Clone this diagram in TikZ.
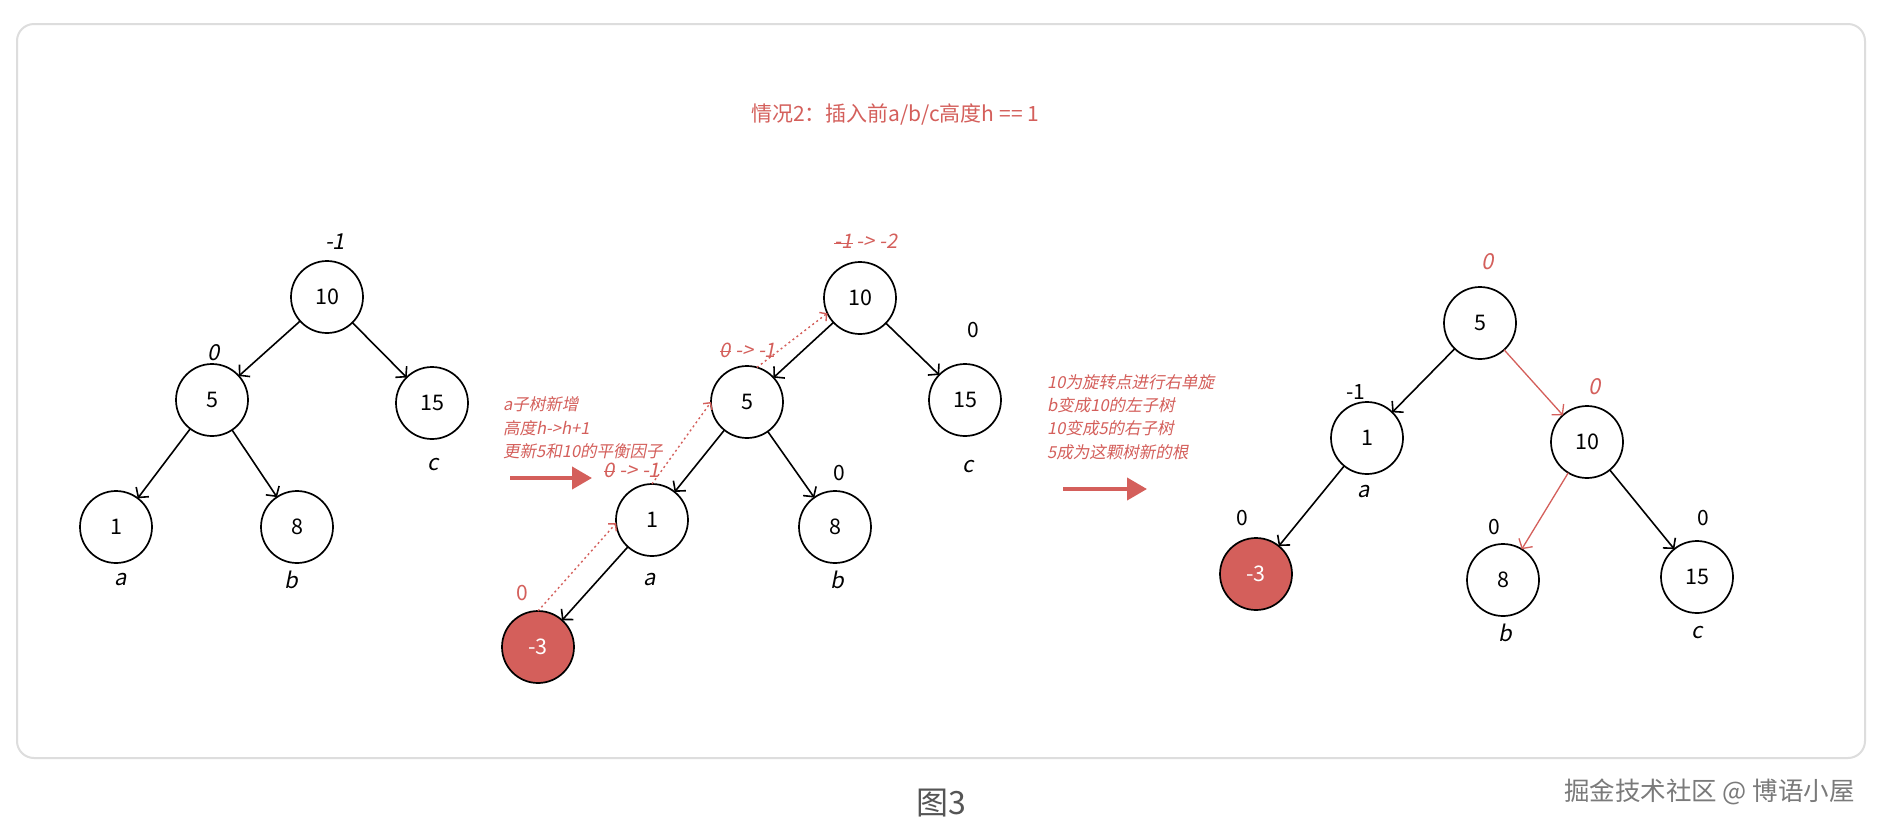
\documentclass[tikz,border=0pt]{standalone}
\usepackage{fontspec}
\setmainfont{Noto Sans CJK SC}
\newfontfamily\itf[FakeSlant=0.2]{Noto Sans CJK SC}
\usetikzlibrary{arrows.meta}
\definecolor{redc}{HTML}{D45F5B}
\definecolor{framec}{HTML}{DDDDDD}
\definecolor{capc}{HTML}{555555}
\definecolor{wmc}{HTML}{7A7A7A}
\newcommand\strk[1]{\sbox0{#1}\rlap{\rule[0.32\ht0]{\wd0}{1pt}}\usebox0}
\tikzset{
  bnode/.style={circle, draw, line width=1.7pt, minimum size=72pt, inner sep=0pt, outer sep=0pt, font=\fontsize{21.5}{21.5}\selectfont},
  rnode/.style={bnode, fill=redc, text=white},
  edge/.style={line width=1.6pt, -{Straight Barb[length=7pt,width=16pt]}},
  redge/.style={line width=1.3pt, draw=redc, -{Straight Barb[length=7pt,width=16pt]}},
  dotted arrow/.style={line width=1.4pt, draw=redc, dash pattern=on 2pt off 3pt, -{Straight Barb[length=5pt,width=11pt]}},
  lab/.style={inner sep=0pt, font=\fontsize{21}{21}\selectfont},
  ilab/.style={inner sep=0pt, font=\fontsize{22}{22}\itf},
  rilab/.style={ilab, text=redc},
  note/.style={inner sep=0pt, anchor=west, text=redc, font=\fontsize{16.5}{16.5}\itf},
  bigarrow/.style={line width=4pt, draw=redc, -{Triangle[length=20pt,width=22pt]}, shorten >=0pt}
}
\begin{document}
\begin{tikzpicture}[x=1pt,y=-1pt]
\useasboundingbox (0,0) rectangle (1880,831);
\fill[white] (0,0) rectangle (1880,831);
\draw[framec, line width=2pt, rounded corners=17pt] (17,24) rectangle (1865,758);

% title
\node[inner sep=0pt, text=redc, font=\fontsize{21}{21}\selectfont] (title) at (895,115) {情况2：插入前a/b/c高度h == 1};

% tree 1
\node[bnode] (t1a) at (327,297) {10};
\node[bnode] (t1b) at (212,400) {5};
\node[bnode] (t1c) at (432,403) {15};
\node[bnode] (t1d) at (116,527) {1};
\node[bnode] (t1e) at (297,527) {8};
\draw[edge] (t1a) -- (t1b);
\draw[edge] (t1a) -- (t1c);
\draw[edge] (t1b) -- (t1d);
\draw[edge] (t1b) -- (t1e);
\node[ilab] (t1la) at (335,242) {-1};
\node[ilab] (t1lb) at (214,353) {0};
\node[ilab] (t1lc) at (433,465) {c};
\node[ilab] (t1ld) at (121,580) {a};
\node[ilab] (t1le) at (291,580) {b};

% arrow 1 and note
\node[note] (n1a) at (503,404) {a子树新增};
\node[note] (n1b) at (503,428) {高度h->h+1};
\node[note] (n1c) at (503,451) {更新5和10的平衡因子};
\coordinate (a1s) at (510,478);
\coordinate (a1e) at (592,478);
\draw[bigarrow] (a1s) -- (a1e);

% tree 2
\node[bnode] (t2a) at (860,298) {10};
\node[bnode] (t2b) at (747,402) {5};
\node[bnode] (t2c) at (965,400) {15};
\node[bnode] (t2d) at (652,520) {1};
\node[bnode] (t2e) at (835,527) {8};
\node[rnode] (t2f) at (538,647) {-3};
\draw[edge] (t2a) -- (t2b);
\draw[edge] (t2a) -- (t2c);
\draw[edge] (t2b) -- (t2d);
\draw[edge] (t2b) -- (t2e);
\draw[edge] (t2d) -- (t2f);
\draw[dotted arrow] (t2f.north) -- (t2d.185);
\draw[dotted arrow] (t2d.north) -- (t2b.west);
\draw[dotted arrow] (t2b.74) -- (t2a.205);
\node[rilab, font=\fontsize{20}{20}\itf] (t2la) at (866,241) {\strk{-1} -> -2};
\node[lab] (t2lc) at (973,330) {0};
\node[rilab, font=\fontsize{20}{20}\itf] (t2lb) at (748,350) {\strk{0} -> -1};
\node[rilab, font=\fontsize{20}{20}\itf] (t2ld) at (632,470) {\strk{0} -> -1};
\node[lab] (t2le) at (839,473) {0};
\node[lab, text=redc] (t2lf) at (522,593) {0};
\node[ilab] (t2a1) at (650,580) {a};
\node[ilab] (t2b1) at (837,580) {b};
\node[ilab] (t2c1) at (968,467) {c};

% arrow 2 and note
\node[note] (n2a) at (1047,382) {10为旋转点进行右单旋};
\node[note] (n2b) at (1047,405) {b变成10的左子树};
\node[note] (n2c) at (1047,428) {10变成5的右子树};
\node[note] (n2d) at (1047,452) {5成为这颗树新的根};
\coordinate (a2s) at (1063,489);
\coordinate (a2e) at (1147,489);
\draw[bigarrow] (a2s) -- (a2e);

% tree 3
\node[bnode] (t3a) at (1480,323) {5};
\node[bnode] (t3b) at (1367,438) {1};
\node[bnode] (t3c) at (1587,442) {10};
\node[rnode] (t3d) at (1256,574) {-3};
\node[bnode] (t3e) at (1503,580) {8};
\node[bnode] (t3f) at (1697,577) {15};
\draw[edge] (t3a) -- (t3b);
\draw[redge] (t3a) -- (t3c);
\draw[edge] (t3b) -- (t3d);
\draw[redge] (t3c) -- (t3e);
\draw[edge] (t3c) -- (t3f);
\node[rilab] (t3la) at (1488,262) {0};
\node[lab] (t3lb) at (1356,392) {-1};
\node[rilab] (t3lc) at (1595,387) {0};
\node[lab] (t3ld) at (1242,518) {0};
\node[lab] (t3le) at (1494,527) {0};
\node[lab] (t3lf) at (1703,518) {0};
\node[ilab] (t3a1) at (1364,492) {a};
\node[ilab] (t3b1) at (1505,633) {b};
\node[ilab] (t3c1) at (1697,633) {c};

% caption and watermark
\node[inner sep=0pt, text=capc, font=\fontsize{32}{32}\selectfont] (cap) at (941,803) {图3};
\node[inner sep=0pt, anchor=east, text=wmc, font=\fontsize{25.5}{25.5}\selectfont] (wm) at (1855,792) {掘金技术社区 @ 博语小屋};
\end{tikzpicture}
\end{document}
